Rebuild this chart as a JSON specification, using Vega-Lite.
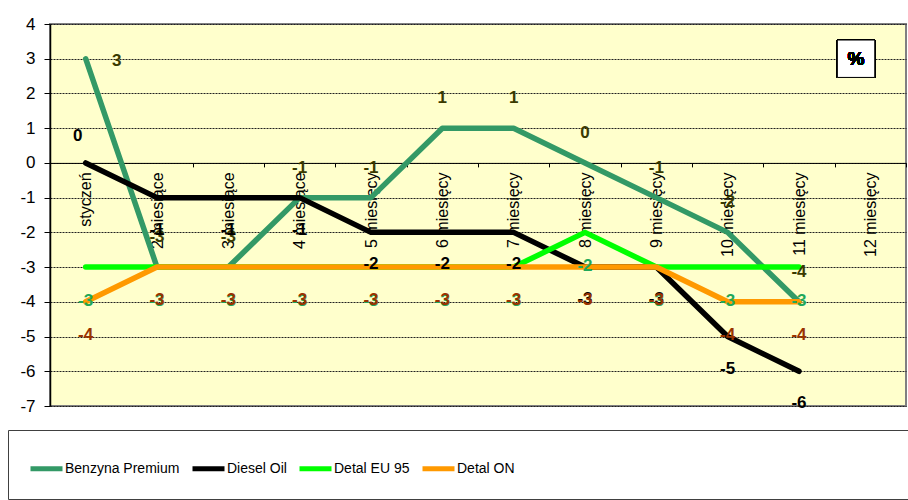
{
  "$schema": "https://vega.github.io/schema/vega-lite/v6.json",
  "width": 856,
  "height": 382,
  "autosize": "none",
  "padding": {"left": 50, "top": 24, "right": 2, "bottom": 94},
  "background": "white",
  "config": {
    "view": {"fill": "#FFFFCC", "stroke": "#808080", "strokeWidth": 2},
    "font": "Liberation Sans"
  },
  "data": {
    "values": [
      {"m": "styczeń", "s": "Benzyna Premium", "v": 3},
      {"m": "2 miesiące", "s": "Benzyna Premium", "v": -3},
      {"m": "3 miesiące", "s": "Benzyna Premium", "v": -3},
      {"m": "4 miesiące", "s": "Benzyna Premium", "v": -1},
      {"m": "5 miesięcy", "s": "Benzyna Premium", "v": -1},
      {"m": "6 miesięcy", "s": "Benzyna Premium", "v": 1},
      {"m": "7 miesięcy", "s": "Benzyna Premium", "v": 1},
      {"m": "8 miesięcy", "s": "Benzyna Premium", "v": 0},
      {"m": "9 miesięcy", "s": "Benzyna Premium", "v": -1},
      {"m": "10 miesięcy", "s": "Benzyna Premium", "v": -2},
      {"m": "11 miesięcy", "s": "Benzyna Premium", "v": -4},
      {"m": "styczeń", "s": "Diesel Oil", "v": 0},
      {"m": "2 miesiące", "s": "Diesel Oil", "v": -1},
      {"m": "3 miesiące", "s": "Diesel Oil", "v": -1},
      {"m": "4 miesiące", "s": "Diesel Oil", "v": -1},
      {"m": "5 miesięcy", "s": "Diesel Oil", "v": -2},
      {"m": "6 miesięcy", "s": "Diesel Oil", "v": -2},
      {"m": "7 miesięcy", "s": "Diesel Oil", "v": -2},
      {"m": "8 miesięcy", "s": "Diesel Oil", "v": -3},
      {"m": "9 miesięcy", "s": "Diesel Oil", "v": -3},
      {"m": "10 miesięcy", "s": "Diesel Oil", "v": -5},
      {"m": "11 miesięcy", "s": "Diesel Oil", "v": -6},
      {"m": "styczeń", "s": "Detal EU 95", "v": -3},
      {"m": "2 miesiące", "s": "Detal EU 95", "v": -3},
      {"m": "3 miesiące", "s": "Detal EU 95", "v": -3},
      {"m": "4 miesiące", "s": "Detal EU 95", "v": -3},
      {"m": "5 miesięcy", "s": "Detal EU 95", "v": -3},
      {"m": "6 miesięcy", "s": "Detal EU 95", "v": -3},
      {"m": "7 miesięcy", "s": "Detal EU 95", "v": -3},
      {"m": "8 miesięcy", "s": "Detal EU 95", "v": -2},
      {"m": "9 miesięcy", "s": "Detal EU 95", "v": -3},
      {"m": "10 miesięcy", "s": "Detal EU 95", "v": -3},
      {"m": "11 miesięcy", "s": "Detal EU 95", "v": -3},
      {"m": "styczeń", "s": "Detal ON", "v": -4},
      {"m": "2 miesiące", "s": "Detal ON", "v": -3},
      {"m": "3 miesiące", "s": "Detal ON", "v": -3},
      {"m": "4 miesiące", "s": "Detal ON", "v": -3},
      {"m": "5 miesięcy", "s": "Detal ON", "v": -3},
      {"m": "6 miesięcy", "s": "Detal ON", "v": -3},
      {"m": "7 miesięcy", "s": "Detal ON", "v": -3},
      {"m": "8 miesięcy", "s": "Detal ON", "v": -3},
      {"m": "9 miesięcy", "s": "Detal ON", "v": -3},
      {"m": "10 miesięcy", "s": "Detal ON", "v": -4},
      {"m": "11 miesięcy", "s": "Detal ON", "v": -4}
    ]
  },
  "encoding": {
    "x": {
      "field": "m",
      "type": "nominal",
      "bandPosition": 0.5,
      "scale": {
        "type": "band",
        "paddingInner": 0,
        "paddingOuter": 0,
        "domain": ["styczeń", "2 miesiące", "3 miesiące", "4 miesiące", "5 miesięcy", "6 miesięcy", "7 miesięcy", "8 miesięcy", "9 miesięcy", "10 miesięcy", "11 miesięcy", "12 miesięcy"]
      },
      "axis": {
        "title": null,
        "orient": "bottom",
        "offset": -243.1,
        "domainColor": "#000000",
        "domainWidth": 1,
        "tickBand": "extent",
        "tickColor": "#000000",
        "tickSize": 4,
        "labelAngle": -90,
        "labelAlign": "right",
        "labelBaseline": "middle",
        "labelPadding": 5,
        "labelFont": "Liberation Sans",
        "labelFontSize": 16,
        "labelColor": "#000000",
        "labelOverlap": false,
        "labelLimit": 0,
        "grid": false
      }
    },
    "y": {
      "field": "v",
      "type": "quantitative",
      "scale": {"domain": [-7, 4], "nice": false, "zero": false},
      "axis": {
        "title": null,
        "values": [-7, -6, -5, -4, -3, -2, -1, 0, 1, 2, 3, 4],
        "labelExpr": "'' + datum.value",
        "domainColor": "#000000",
        "domainWidth": 1.5,
        "tickColor": "#000000",
        "tickSize": 6,
        "labelPadding": 9,
        "labelFont": "Liberation Sans",
        "labelFontSize": 17,
        "labelColor": "#000000",
        "grid": true,
        "gridColor": "#202020",
        "gridDash": [2, 1],
        "gridWidth": 1
      }
    }
  },
  "layer": [
    {
      "mark": {"type": "line", "strokeWidth": 5.5, "strokeCap": "round", "strokeJoin": "round"},
      "encoding": {
        "color": {
          "field": "s",
          "type": "nominal",
          "scale": {
            "domain": ["Benzyna Premium", "Diesel Oil", "Detal EU 95", "Detal ON"],
            "range": ["#339966", "#000000", "#00FF00", "#FF9900"]
          },
          "legend": {
            "orient": "none",
            "legendX": -42,
            "legendY": 406,
            "direction": "horizontal",
            "title": " ",
            "titleOrient": "right",
            "titlePadding": 400,
            "symbolType": "stroke",
            "symbolSize": 1024,
            "symbolStrokeWidth": 5,
            "labelFont": "Liberation Sans",
            "labelFontSize": 14,
            "labelColor": "#000000",
            "labelOffset": 0,
            "columnPadding": 2,
            "padding": 20,
            "strokeColor": "#404040"
          }
        }
      }
    },
    {
      "transform": [{"filter": "datum.s == 'Benzyna Premium' && datum.m != 'styczeń'"}],
      "mark": {"type": "text", "dy": -30, "fontWeight": "bold", "fontSize": 17, "color": "#3a3a00"},
      "encoding": {"text": {"field": "v", "type": "nominal"}}
    },
    {
      "transform": [{"filter": "datum.s == 'Benzyna Premium' && datum.m == 'styczeń'"}],
      "mark": {"type": "text", "dx": 31, "dy": 2, "fontWeight": "bold", "fontSize": 17, "color": "#3a3a00"},
      "encoding": {"text": {"field": "v", "type": "nominal"}}
    },
    {
      "transform": [{"filter": "datum.s == 'Diesel Oil' && datum.m != 'styczeń'"}],
      "mark": {"type": "text", "dy": 32, "fontWeight": "bold", "fontSize": 17, "color": "#000000"},
      "encoding": {"text": {"field": "v", "type": "nominal"}}
    },
    {
      "transform": [{"filter": "datum.s == 'Diesel Oil' && datum.m == 'styczeń'"}],
      "mark": {"type": "text", "dx": -8, "dy": -27, "fontWeight": "bold", "fontSize": 17, "color": "#000000"},
      "encoding": {"text": {"field": "v", "type": "nominal"}}
    },
    {
      "transform": [{"filter": "datum.s == 'Detal EU 95'"}],
      "mark": {"type": "text", "dy": 34, "fontWeight": "bold", "fontSize": 17, "color": "#1fa85a"},
      "encoding": {"text": {"field": "v", "type": "nominal"}}
    },
    {
      "transform": [{"filter": "datum.s == 'Detal ON'"}],
      "mark": {"type": "text", "dy": 33, "fontWeight": "bold", "fontSize": 17, "color": "#993300"},
      "encoding": {"text": {"field": "v", "type": "nominal"}}
    },
    {
      "mark": {"type": "square", "size": 1400, "filled": true, "fill": "#FFFFFF", "stroke": "#000000", "strokeWidth": 1, "opacity": 1},
      "encoding": {
        "x": {"datum": "12 miesięcy", "bandPosition": 0.3},
        "y": {"datum": 3}
      }
    },
    {
      "mark": {"type": "text", "text": "%", "fontWeight": "bold", "fontSize": 19, "color": "#000000", "baseline": "middle", "align": "center"},
      "encoding": {
        "x": {"datum": "12 miesięcy", "bandPosition": 0.3},
        "y": {"datum": 3}
      }
    }
  ]
}
